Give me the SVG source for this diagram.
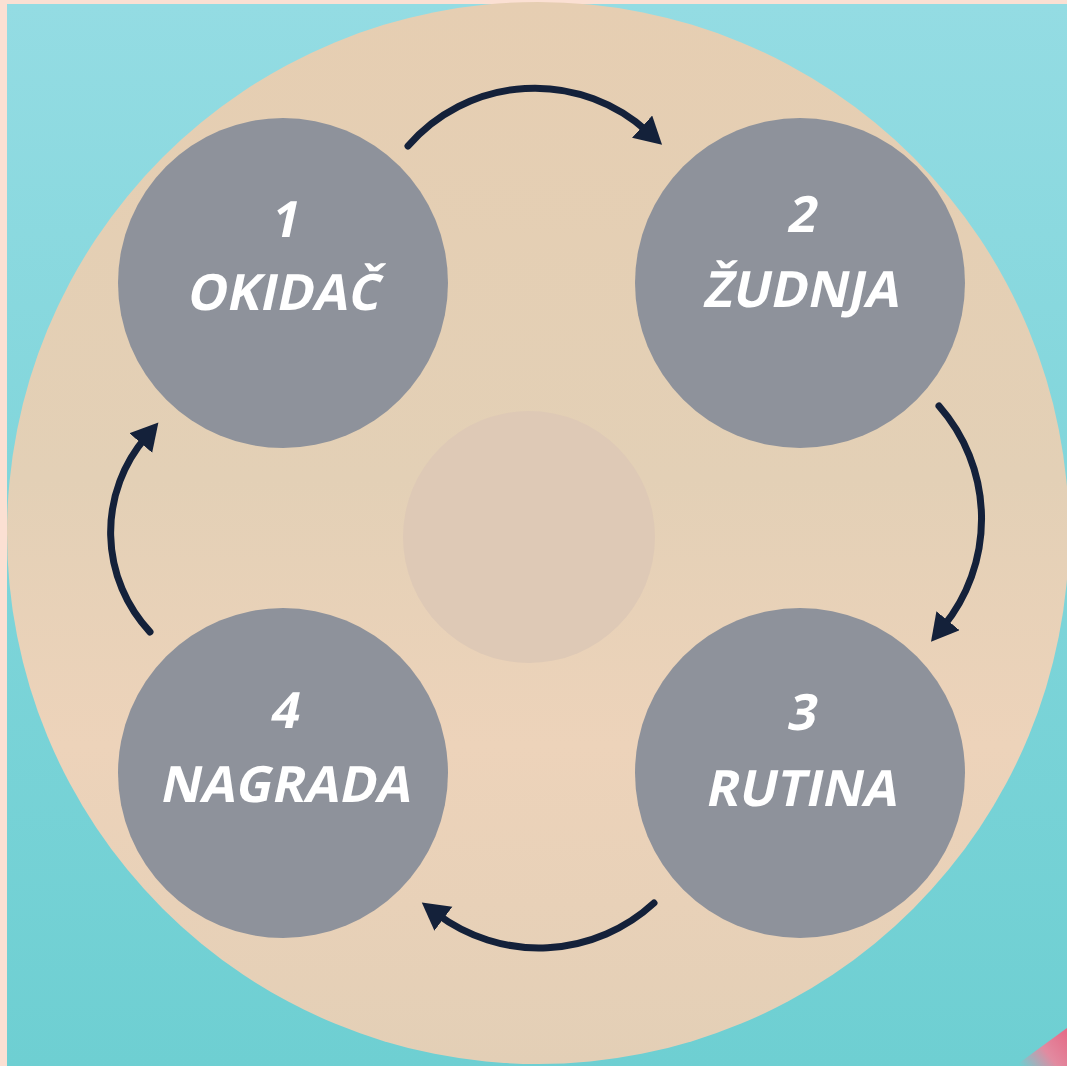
<svg xmlns="http://www.w3.org/2000/svg" width="1067" height="1066" viewBox="0 0 1067 1066">
  <defs>
    <linearGradient id="teal" x1="0" y1="0" x2="0" y2="1">
      <stop offset="0" stop-color="#94DCE3"/>
      <stop offset="0.5" stop-color="#7FD5DA"/>
      <stop offset="1" stop-color="#6ECFD2"/>
    </linearGradient>
    <linearGradient id="beige" x1="0" y1="0" x2="0" y2="1">
      <stop offset="0" stop-color="#E6CEB2"/>
      <stop offset="0.45" stop-color="#E3D0B6"/>
      <stop offset="0.7" stop-color="#EDD3BA"/>
      <stop offset="1" stop-color="#E3CFB6"/>
    </linearGradient>
    <linearGradient id="pink" x1="1020" y1="1066" x2="1067" y2="1030" gradientUnits="userSpaceOnUse">
      <stop offset="0" stop-color="#6ECFD2"/>
      <stop offset="0.5" stop-color="#E28AA0"/>
      <stop offset="1" stop-color="#E56A86"/>
    </linearGradient>
    <marker id="head" markerUnits="userSpaceOnUse" markerWidth="34" markerHeight="34" refX="8" refY="15" orient="auto">
      <path d="M0,0 L27,15 L0,30 Z" fill="#14213A"/>
    </marker>
    <style>
      .node { fill: #8E929B; }
      .arrow { fill: none; stroke: #14213A; stroke-width: 7; stroke-linecap: round; marker-end: url(#head); }
      .num { font-family: "Open Sans", "Noto Sans", sans-serif; font-weight: 700; font-size: 50px; fill: #FFFFFF; text-anchor: middle; }
      .lbl { font-family: "Open Sans", "Noto Sans", sans-serif; font-weight: 700; font-size: 50px; fill: #FFFFFF; text-anchor: middle; }
    </style>
  </defs>

  <rect x="0" y="0" width="1067" height="1066" fill="#FBE0D3"/>
  <rect x="7" y="4" width="1060" height="1062" fill="url(#teal)"/>
  <polygon points="1015,1066 1067,1028 1067,1066" fill="url(#pink)"/>

  <circle cx="538" cy="533" r="531" fill="url(#beige)"/>
  <circle cx="529" cy="537" r="126" fill="#DEC9B6"/>

  <g id="n1">
    <circle class="node" cx="283" cy="283" r="165"/>
    <text class="num" transform="translate(283,237) skewX(-12)">1</text>
    <text class="lbl" transform="translate(282,310) skewX(-12)">OKIDAČ</text>
  </g>
  <g id="n2">
    <circle class="node" cx="800" cy="283" r="165"/>
    <text class="num" transform="translate(800,232) skewX(-12)">2</text>
    <text class="lbl" transform="translate(800,307) skewX(-12)">ŽUDNJA</text>
  </g>
  <g id="n3">
    <circle class="node" cx="800" cy="773" r="165"/>
    <text class="num" transform="translate(800,730) skewX(-12)">3</text>
    <text class="lbl" transform="translate(800,806) skewX(-12)">RUTINA</text>
  </g>
  <g id="n4">
    <circle class="node" cx="283" cy="773" r="165"/>
    <text class="num" transform="translate(283,728) skewX(-12)">4</text>
    <text class="lbl" transform="translate(284,802) skewX(-12)">NAGRADA</text>
  </g>

  <g id="connectors">
    <path class="arrow" d="M408,146 A168,168 0 0 1 648,132"/>
    <path class="arrow" d="M939,406 A171,171 0 0 1 943,627"/>
    <path class="arrow" d="M654,903 A170,170 0 0 1 437,914"/>
    <path class="arrow" d="M150,632 A146,146 0 0 1 146,437"/>
  </g>
</svg>
